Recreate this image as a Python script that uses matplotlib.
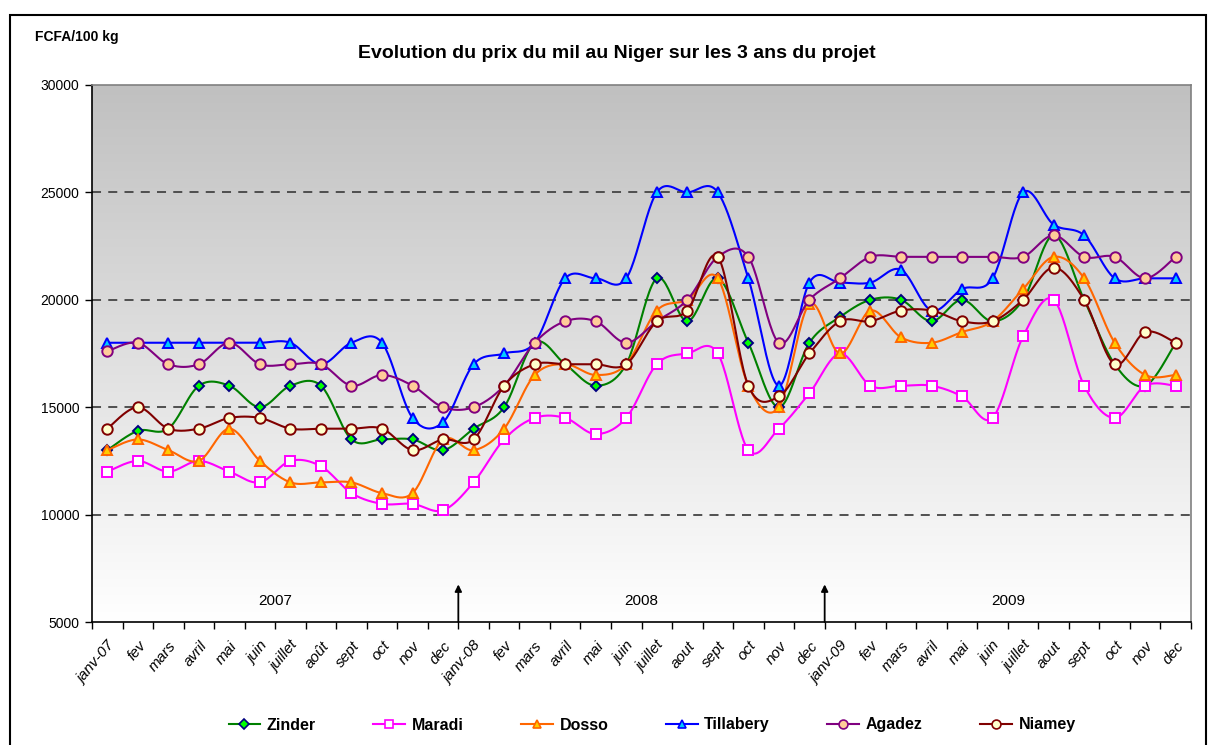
import numpy as np
import matplotlib
matplotlib.use("Agg")
import matplotlib.pyplot as plt
from matplotlib.colors import LinearSegmentedColormap
from matplotlib.lines import Line2D
from matplotlib.patches import Rectangle

plt.rcParams['font.family'] = ['Liberation Sans', 'DejaVu Sans']

months = ['janv-07', 'fev', 'mars', 'avril', 'mai', 'juin', 'juillet', 'août', 'sept', 'oct', 'nov', 'dec',
          'janv-08', 'fev', 'mars', 'avril', 'mai', 'juin', 'juillet', 'aout', 'sept', 'oct', 'nov', 'dec',
          'janv-09', 'fev', 'mars', 'avril', 'mai', 'juin', 'juillet', 'aout', 'sept', 'oct', 'nov', 'dec']

zinder = [13000, 13900, 14000, 16000, 16000, 15000, 16000, 16000, 13500, 13500, 13500, 13000,
          14000, 15000, 18000, 17000, 16000, 17000, 21000, 19000, 21000, 18000, 15000, 18000,
          19200, 20000, 20000, 19000, 20000, 19000, 20000, 23000, 20000, 17000, 16000, 18000]
maradi = [12000, 12500, 12000, 12500, 12000, 11500, 12500, 12250, 11000, 10500, 10500, 10200,
          11500, 13500, 14500, 14500, 13750, 14500, 17000, 17500, 17500, 13000, 14000, 15650,
          17500, 16000, 16000, 16000, 15500, 14500, 18300, 20000, 16000, 14500, 16000, 16000]
dosso = [13000, 13500, 13000, 12500, 14000, 12500, 11500, 11500, 11500, 11000, 11000, 13500,
         13000, 14000, 16500, 17000, 16500, 17000, 19500, 20000, 21000, 16000, 15000, 19800,
         17500, 19500, 18250, 18000, 18500, 19000, 20500, 22000, 21000, 18000, 16500, 16500]
tillabery = [18000, 18000, 18000, 18000, 18000, 18000, 18000, 17000, 18000, 18000, 14500, 14300,
             17000, 17500, 18000, 21000, 21000, 21000, 25000, 25000, 25000, 21000, 16000, 20800,
             20800, 20800, 21400, 19500, 20500, 21000, 25000, 23500, 23000, 21000, 21000, 21000]
agadez = [17600, 18000, 17000, 17000, 18000, 17000, 17000, 17000, 16000, 16500, 16000, 15000,
          15000, 16000, 18000, 19000, 19000, 18000, 19000, 20000, 22000, 22000, 18000, 20000,
          21000, 22000, 22000, 22000, 22000, 22000, 22000, 23000, 22000, 22000, 21000, 22000]
niamey = [14000, 15000, 14000, 14000, 14500, 14500, 14000, 14000, 14000, 14000, 13000, 13500,
          13500, 16000, 17000, 17000, 17000, 17000, 19000, 19500, 22000, 16000, 15500, 17500,
          19000, 19000, 19500, 19500, 19000, 19000, 20000, 21500, 20000, 17000, 18500, 18000]

series_names = ['Zinder', 'Maradi', 'Dosso', 'Tillabery', 'Agadez', 'Niamey']
years = ['2007', '2008', '2009']
title = 'Evolution du prix du mil au Niger sur les 3 ans du projet'
unit = 'FCFA/100 kg'

styles = {
    'Zinder': dict(color='#008000', marker='D', mfc='#00ff00', mec='#000080', ms=5.5),
    'Maradi': dict(color='#ff00ff', marker='s', mfc='white', mec='#ff00ff', ms=7.2),
    'Dosso': dict(color='#ff6600', marker='^', mfc='#ffcc00', mec='#ff6600', ms=7.5),
    'Tillabery': dict(color='#0000ff', marker='^', mfc='#00ccff', mec='#0000ff', ms=7.5),
    'Agadez': dict(color='#800080', marker='o', mfc='#ffcc99', mec='#800080', ms=7.5),
    'Niamey': dict(color='#800000', marker='o', mfc='#ffffcc', mec='#800000', ms=7.5),
}


def smooth(x, y, n=24):
    x = np.asarray(x, float)
    y = np.asarray(y, float)
    P = np.column_stack([x, y])
    out = []
    for i in range(len(P) - 1):
        p0 = P[i - 1] if i > 0 else P[i]
        p1 = P[i]
        p2 = P[i + 1]
        p3 = P[i + 2] if i + 2 < len(P) else P[i + 1]
        c1 = p1 + (p2 - p0) / 6.0
        c2 = p2 - (p3 - p1) / 6.0
        t = np.linspace(0, 1, n, endpoint=(i == len(P) - 2))[:, None]
        b = ((1 - t) ** 3) * p1 + 3 * ((1 - t) ** 2) * t * c1 + 3 * (1 - t) * t ** 2 * c2 + t ** 3 * p2
        out.append(b)
    out = np.vstack(out)
    return out[:, 0], out[:, 1]


W, H = 1209, 745
fig = plt.figure(figsize=(W / 100, H / 100), dpi=100)
ax = fig.add_axes([92 / W, 1 - 622 / H, (1191 - 92) / W, (622 - 85) / H])

# outer frame
fig.patches.append(Rectangle((10 / W, -0.01), (1206 - 10) / W, (H - 15) / H + 0.01,
                             transform=fig.transFigure, fill=False, edgecolor='black', lw=1.5))

xs = np.arange(len(months))
ax.set_xlim(-0.5, len(months) - 0.5)
ax.set_ylim(5000, 30000)

# gradient background
cmap = LinearSegmentedColormap.from_list('bg', ['#ffffff', '#c0c0c0'])
grad = np.linspace(0, 1, 256)[:, None]
ax.imshow(grad, extent=[-0.5, len(months) - 0.5, 5000, 30000], origin='lower',
          aspect='auto', cmap=cmap, zorder=0, interpolation='bicubic')

for v in [10000, 15000, 20000, 25000]:
    ax.axhline(v, color='#444444', lw=1.3, ls=(0, (5, 4)), zorder=1)

data = {'Zinder': zinder, 'Maradi': maradi, 'Dosso': dosso,
        'Tillabery': tillabery, 'Agadez': agadez, 'Niamey': niamey}
handles = []
for k, name in enumerate(series_names):
    st = styles[name]
    sx, sy = smooth(xs, data[name])
    ax.plot(sx, sy, color=st['color'], lw=1.5, zorder=2 + k)
    ax.plot(xs, data[name], ls='none', marker=st['marker'], mfc=st['mfc'], mec=st['mec'],
            ms=st['ms'], mew=1.4, zorder=2.5 + k)
    handles.append(Line2D([0], [0], color=st['color'], lw=1.5, marker=st['marker'],
                          mfc=st['mfc'], mec=st['mec'], ms=st['ms'] * 0.85, mew=1.2))

# year labels and arrows
for i, yr in enumerate(years):
    ax.text(5.5 + 12 * i, 6000, yr, ha='center', va='center', fontsize=11, zorder=10)
for b in [11.5, 23.5]:
    ax.annotate('', xy=(b, 6750), xytext=(b, 5000),
                arrowprops=dict(arrowstyle='-|>', color='black', lw=1.3,
                                mutation_scale=10, shrinkA=0, shrinkB=0), zorder=10)

# axes styling
ax.set_yticks([5000, 10000, 15000, 20000, 25000, 30000])
ax.set_yticklabels(['5000', '10000', '15000', '20000', '25000', '30000'])
ax.tick_params(axis='y', direction='out', length=5, width=1, labelsize=10, pad=4)
ax.set_xticks(xs)
ax.set_xticklabels(months, rotation=50, ha='right', rotation_mode='anchor',
                   fontsize=11, fontstyle='italic')
ax.tick_params(axis='x', which='major', length=0, pad=12)
ax.set_xticks(np.arange(-0.5, len(months), 1), minor=True)
ax.tick_params(axis='x', which='minor', direction='out', length=5, width=1)
for s in ['left', 'bottom']:
    ax.spines[s].set_color('black')
    ax.spines[s].set_linewidth(1.2)
for s in ['top', 'right']:
    ax.spines[s].set_color('#808080')
    ax.spines[s].set_linewidth(1.2)

fig.text(35 / W, 1 - 37 / H, unit, fontsize=10, fontweight='bold', va='center', ha='left')
fig.text(617 / W, 1 - 53 / H, title, fontsize=14, fontweight='bold', va='center', ha='center')

fig.legend(handles, series_names, loc='center', bbox_to_anchor=(652 / W, 1 - 725 / H), ncol=6,
           frameon=False, prop=dict(weight='bold', size=11.5), handlelength=2.0,
           columnspacing=3.6, handletextpad=0.4)

fig.savefig('out.png', dpi=100)
